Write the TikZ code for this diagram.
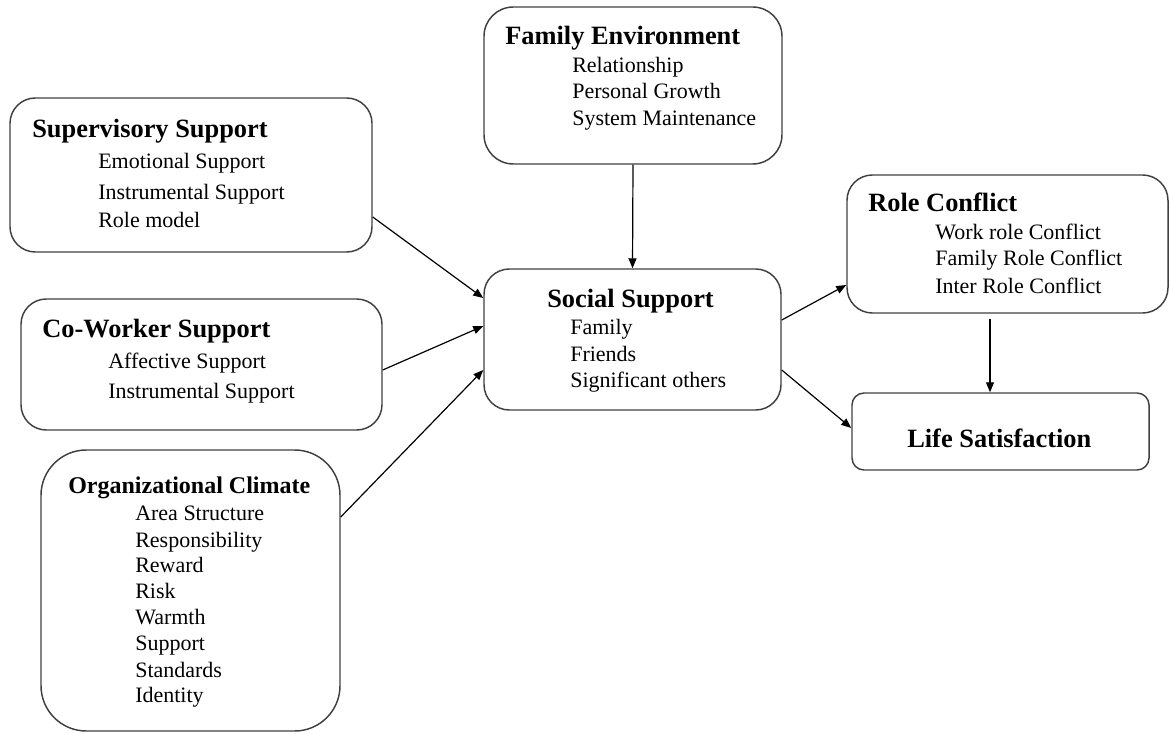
\documentclass[tikz,border=0pt]{standalone}
\usepackage{fontspec}
\setmainfont{Liberation Serif}
\usetikzlibrary{arrows.meta,positioning,calc,fit}

\begin{document}
\begin{tikzpicture}[
    x=0.75pt, y=-0.75pt,
    block/.style={rectangle, draw=black!75, line width=1.1pt, rounded corners=19pt, inner sep=0pt},
    head/.style={anchor=base west, inner sep=0pt, font=\fontsize{19.8}{23}\selectfont\bfseries},
    item/.style={anchor=base west, inner sep=0pt, font=\fontsize{16.5}{19}\selectfont},
    arrow/.style={-{Triangle[length=7.5pt, width=6pt]}, line width=0.9pt}
]
    \useasboundingbox (0,0) rectangle (1170,734);

    % boxes
    \node[block, fit={(10,98) (372,252)}] (sup) {};
    \node[block, rounded corners=22pt, fit={(484,7) (782,164)}] (fam) {};
    \node[block, fit={(21,299) (382,430)}] (cow) {};
    \node[block, rounded corners=34pt, fit={(41,450) (340,731)}] (org) {};
    \node[block, fit={(484,269) (781,410)}] (soc) {};
    \node[block, fit={(847,175) (1168,313)}] (role) {};
    \node[block, rounded corners=9pt, fit={(852,393) (1149,470)}] (life) {};

    % texts
    \node[head] (sup-head) at (32,138) {Supervisory Support};
    \foreach \y/\txt [count=\i] in {169/Emotional Support, 200/Instrumental Support, 228/Role model}
        \node[item] (sup-\i) at (98,\y) {\txt};

    \node[head] (fam-head) at (505,45) {Family Environment};
    \foreach \y/\txt [count=\i] in {73/Relationship, 99/Personal Growth, 126/System Maintenance}
        \node[item] (fam-\i) at (572,\y) {\txt};

    \node[head] (cow-head) at (42,337) {Co-Worker Support};
    \foreach \y/\txt [count=\i] in {368/Affective Support, 398/Instrumental Support}
        \node[item] (cow-\i) at (108,\y) {\txt};

    \node[head, font=\fontsize{18}{21}\selectfont\bfseries] (org-head) at (68,493) {Organizational Climate};
    \foreach \y/\txt [count=\i] in {520/Area Structure, 547/Responsibility, 572/Reward, 598/Risk,
        624/Warmth, 650/Support, 677/Standards, 702/Identity}
        \node[item] (org-\i) at (135,\y) {\txt};

    \node[head] (soc-head) at (547,307) {Social Support};
    \foreach \y/\txt [count=\i] in {334/Family, 361/Friends, 387/Significant others}
        \node[item] (soc-\i) at (570,\y) {\txt};

    \node[head] (role-head) at (868,212) {Role Conflict};
    \foreach \y/\txt [count=\i] in {240/Work role Conflict, 266/Family Role Conflict, 293/Inter Role Conflict}
        \node[item] (role-\i) at (935,\y) {\txt};

    \node[head] (life-head) at (907,447) {Life Satisfaction};

    % connectors
    \draw[arrow] ($(sup.east)+(0,42)$) -- ($(soc.west)+(0,-41.5)$);
    \draw[arrow] ($(cow.east)+(0,5.5)$) -- ($(soc.west)+(0,-13.5)$);
    \draw[arrow] ($(org.east)+(0,-73.5)$) -- ($(soc.west)+(0,30.5)$);
    \draw[arrow] (fam.south) -- (soc.north);
    \draw[arrow] ($(soc.east)+(0,-19.5)$) -- ($(role.west)+(0,41)$);
    \draw[arrow] ($(soc.east)+(0,30.5)$) -- ($(life.west)+(0,-3.5)$);
    \draw[arrow] ($(role.south)+(-17.5,5)$) -- ($(life.north)+(-10.5,0)$);
\end{tikzpicture}
\end{document}
